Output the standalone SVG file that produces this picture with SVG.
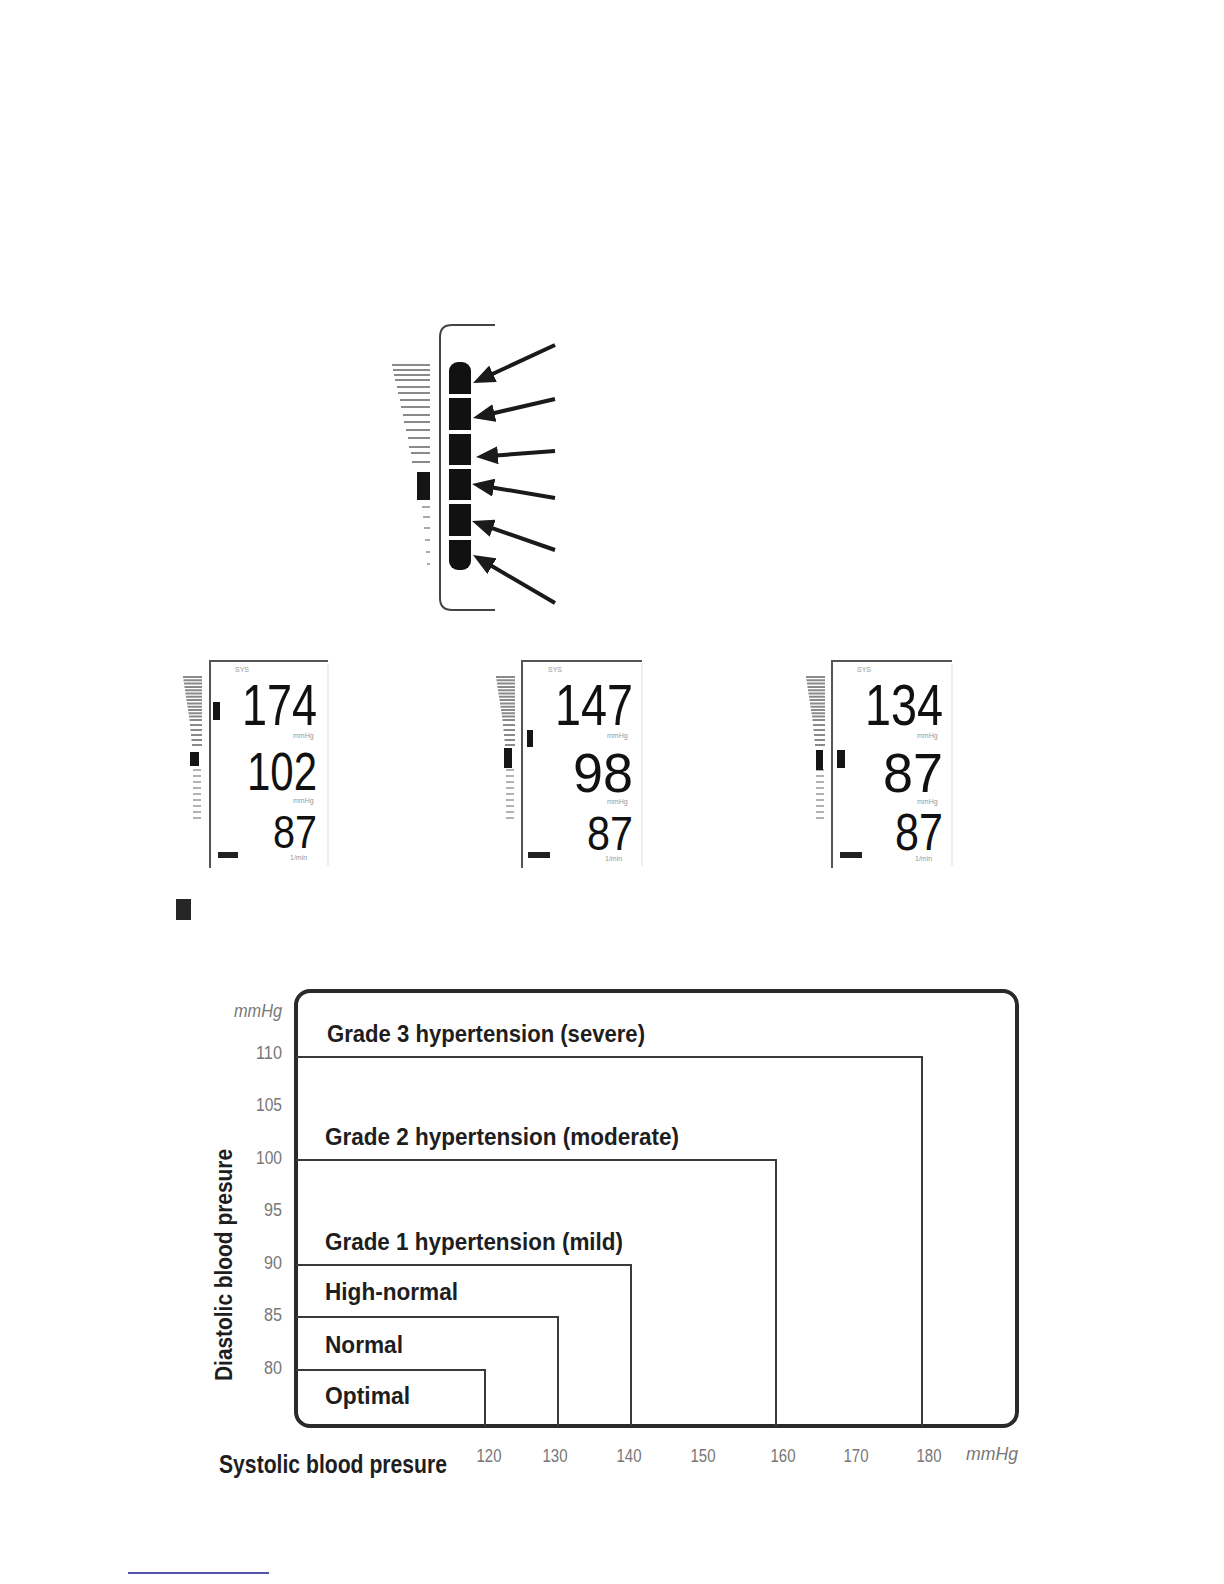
<svg xmlns="http://www.w3.org/2000/svg" width="1224" height="1584" viewBox="0 0 1224 1584">
<style>
.lab{font-family:"Liberation Sans Narrow","Liberation Sans",Arial,sans-serif;font-weight:bold;fill:#1e1e1e}
.tick{font-family:"Liberation Sans Narrow","Liberation Sans",Arial,sans-serif;fill:#777;font-size:18px}
.dig{font-family:"Liberation Sans",Arial,sans-serif;fill:#111}
.tiny{font-family:"Liberation Sans",Arial,sans-serif;fill:#999;font-size:7px}
.frame{fill:none;stroke:#2a2a2a;stroke-width:4}
.zone{fill:none;stroke:#3a3a3a;stroke-width:2}
.wedge{stroke:#8a8a8a;stroke-width:2}
.conn{stroke:#1a1a1a;stroke-width:4;fill:none}
</style>
<defs>
<marker id="ah" viewBox="0 0 22 18" refX="12" refY="9" markerWidth="22" markerHeight="18" markerUnits="userSpaceOnUse" orient="auto">
<path d="M0,0 L22,9 L0,18 z" fill="#1a1a1a"/>
</marker>
<g id="minibar">
<path class="wedge" stroke-width="1.4" d="M0,0 H19 M0.5,3.3 H19 M1,6.6 H19 M1.5,9.9 H19 M2,13.2 H19 M2.5,16.5 H19 M3,19.8 H19 M3.5,23.1 H19 M4,26.4 H19 M4.5,29.7 H19 M5,33 H19 M5.5,36.3 H19 M6,39.6 H19 M6.5,42.9 H19 M7,48 H19 M7.5,53 H19 M8,58 H19 M8.5,63 H19 M9,68 H19"/>
<path stroke="#999" stroke-width="1.4" d="M10,93 H18 M10,99 H18 M10,105 H18 M10,111 H18 M10,117 H18 M10,123 H18 M10,129 H18 M10,135 H18 M10,141 H18"/>
</g>
</defs>
<rect width="1224" height="1584" fill="#fff"/>

<g id="indicator-panel">
<path d="M495,325 H452 Q440,325 440,337 V598 Q440,610 452,610 H495" fill="none" stroke="#444" stroke-width="2"/>
<path class="wedge" d="M392,365 H430 M393,370 H430 M394,375 H430 M395,380 H430 M397,387 H430 M398,393 H430 M400,400 H430 M401,407 H430 M403,415 H430 M404,422 H430 M406,430 H430 M408,438 H430 M409,447 H430 M411,453 H430 M412,462 H430"/>
<rect x="417" y="472" width="13" height="28" fill="#151515"/>
<path stroke="#aaa" stroke-width="2" d="M422,507 H430 M423,517 H430 M424,528 H430 M425,540 H430 M426,552 H430 M427,564 H430"/>
<rect x="449" y="362" width="22" height="208" rx="9" fill="#111"/>
<g fill="#fff">
<rect x="447" y="394" width="26" height="4"/>
<rect x="447" y="430" width="26" height="4"/>
<rect x="447" y="465" width="26" height="4"/>
<rect x="447" y="500" width="26" height="4"/>
<rect x="447" y="536" width="26" height="4"/>
</g>
</g>

<g id="connectors">
<line class="conn" x1="555" y1="345" x2="482.1" y2="378.8" marker-end="url(#ah)"/>
<line class="conn" x1="555" y1="399" x2="482.7" y2="415.7" marker-end="url(#ah)"/>
<line class="conn" x1="555" y1="451" x2="486" y2="456.2" marker-end="url(#ah)"/>
<line class="conn" x1="555" y1="498" x2="481.9" y2="485.7" marker-end="url(#ah)"/>
<line class="conn" x1="555" y1="550" x2="481.4" y2="524.3" marker-end="url(#ah)"/>
<line class="conn" x1="555" y1="603" x2="481.6" y2="560.1" marker-end="url(#ah)"/>
</g>

<g id="lcd-1">
<path d="M210,868 V661 H328" fill="none" stroke="#555" stroke-width="2"/>
<line x1="328" y1="663" x2="328" y2="866" stroke="#ddd" stroke-width="1"/>
<use href="#minibar" x="183" y="677"/>
<rect x="190" y="752" width="9" height="14" fill="#151515"/>
<text class="tiny" x="235" y="672">SYS</text>
<rect x="213" y="702" width="7" height="18" fill="#151515"/>
<text class="dig" x="242" y="725" font-size="58" textLength="75" lengthAdjust="spacingAndGlyphs">174</text>
<text class="tiny" x="293" y="738">mmHg</text>
<text class="dig" x="247" y="790" font-size="53" textLength="70" lengthAdjust="spacingAndGlyphs">102</text>
<text class="tiny" x="293" y="803">mmHg</text>
<text class="dig" x="273" y="848" font-size="46" textLength="44" lengthAdjust="spacingAndGlyphs">87</text>
<text class="tiny" x="290" y="860">1/min</text>
<rect x="218" y="852" width="20" height="6" fill="#222"/>
</g>

<g id="lcd-2">
<path d="M522,868 V661 H642" fill="none" stroke="#555" stroke-width="2"/>
<line x1="642" y1="663" x2="642" y2="866" stroke="#ddd" stroke-width="1"/>
<use href="#minibar" x="496" y="677"/>
<rect x="504" y="748" width="8" height="20" fill="#151515"/>
<text class="tiny" x="548" y="672">SYS</text>
<rect x="527" y="730" width="6" height="17" fill="#151515"/>
<text class="dig" x="555" y="725" font-size="58" textLength="78" lengthAdjust="spacingAndGlyphs">147</text>
<text class="tiny" x="607" y="738">mmHg</text>
<text class="dig" x="573" y="792" font-size="55" textLength="60" lengthAdjust="spacingAndGlyphs">98</text>
<text class="tiny" x="607" y="804">mmHg</text>
<text class="dig" x="587" y="850" font-size="49" textLength="46" lengthAdjust="spacingAndGlyphs">87</text>
<text class="tiny" x="605" y="861">1/min</text>
<rect x="528" y="852" width="22" height="6" fill="#222"/>
</g>

<g id="lcd-3">
<path d="M832,868 V661 H952" fill="none" stroke="#555" stroke-width="2"/>
<line x1="952" y1="663" x2="952" y2="866" stroke="#ddd" stroke-width="1"/>
<use href="#minibar" x="806" y="677"/>
<rect x="816" y="750" width="7" height="20" fill="#151515"/>
<text class="tiny" x="857" y="672">SYS</text>
<rect x="837" y="750" width="8" height="18" fill="#151515"/>
<text class="dig" x="865" y="725" font-size="58" textLength="78" lengthAdjust="spacingAndGlyphs">134</text>
<text class="tiny" x="917" y="738">mmHg</text>
<text class="dig" x="883" y="792" font-size="55" textLength="60" lengthAdjust="spacingAndGlyphs">87</text>
<text class="tiny" x="917" y="804">mmHg</text>
<text class="dig" x="895" y="850" font-size="51" textLength="48" lengthAdjust="spacingAndGlyphs">87</text>
<text class="tiny" x="915" y="861">1/min</text>
<rect x="840" y="852" width="22" height="6" fill="#222"/>
</g>

<g id="bullet">
<rect x="176" y="899" width="15" height="21" fill="#262626"/>
</g>

<g id="chart">
<rect class="frame" x="296" y="991" width="721" height="435" rx="14"/>
<path class="zone" d="M296,1057 H922 V1426"/>
<path class="zone" d="M296,1160 H776 V1426"/>
<path class="zone" d="M296,1265 H631 V1426"/>
<path class="zone" d="M296,1317 H558 V1426"/>
<path class="zone" d="M296,1370 H485 V1426"/>

<text class="lab" x="327" y="1042" font-size="24" textLength="318" lengthAdjust="spacingAndGlyphs">Grade 3 hypertension (severe)</text>
<text class="lab" x="325" y="1145" font-size="24" textLength="354" lengthAdjust="spacingAndGlyphs">Grade 2 hypertension (moderate)</text>
<text class="lab" x="325" y="1250" font-size="24" textLength="298" lengthAdjust="spacingAndGlyphs">Grade 1 hypertension (mild)</text>
<text class="lab" x="325" y="1300" font-size="24" textLength="133" lengthAdjust="spacingAndGlyphs">High-normal</text>
<text class="lab" x="325" y="1353" font-size="24" textLength="78" lengthAdjust="spacingAndGlyphs">Normal</text>
<text class="lab" x="325" y="1404" font-size="24" textLength="85" lengthAdjust="spacingAndGlyphs">Optimal</text>

<text class="tick" x="282" y="1017" text-anchor="end" font-style="italic" font-size="15" textLength="48" lengthAdjust="spacingAndGlyphs">mmHg</text>
<text class="tick" x="282" y="1059" text-anchor="end" textLength="26" lengthAdjust="spacingAndGlyphs">110</text>
<text class="tick" x="282" y="1111" text-anchor="end" textLength="26" lengthAdjust="spacingAndGlyphs">105</text>
<text class="tick" x="282" y="1164" text-anchor="end" textLength="26" lengthAdjust="spacingAndGlyphs">100</text>
<text class="tick" x="282" y="1216" text-anchor="end" textLength="18" lengthAdjust="spacingAndGlyphs">95</text>
<text class="tick" x="282" y="1269" text-anchor="end" textLength="18" lengthAdjust="spacingAndGlyphs">90</text>
<text class="tick" x="282" y="1321" text-anchor="end" textLength="18" lengthAdjust="spacingAndGlyphs">85</text>
<text class="tick" x="282" y="1374" text-anchor="end" textLength="18" lengthAdjust="spacingAndGlyphs">80</text>

<text class="tick" x="489" y="1462" text-anchor="middle" textLength="25" lengthAdjust="spacingAndGlyphs">120</text>
<text class="tick" x="555" y="1462" text-anchor="middle" textLength="25" lengthAdjust="spacingAndGlyphs">130</text>
<text class="tick" x="629" y="1462" text-anchor="middle" textLength="25" lengthAdjust="spacingAndGlyphs">140</text>
<text class="tick" x="703" y="1462" text-anchor="middle" textLength="25" lengthAdjust="spacingAndGlyphs">150</text>
<text class="tick" x="783" y="1462" text-anchor="middle" textLength="25" lengthAdjust="spacingAndGlyphs">160</text>
<text class="tick" x="856" y="1462" text-anchor="middle" textLength="25" lengthAdjust="spacingAndGlyphs">170</text>
<text class="tick" x="929" y="1462" text-anchor="middle" textLength="25" lengthAdjust="spacingAndGlyphs">180</text>
<text class="tick" x="966" y="1460" font-style="italic" font-size="15" textLength="52" lengthAdjust="spacingAndGlyphs">mmHg</text>

<text class="lab" x="219" y="1473" font-size="25" textLength="228" lengthAdjust="spacingAndGlyphs">Systolic blood presure</text>
<text class="lab" transform="translate(232,1265) rotate(-90)" x="0" y="0" text-anchor="middle" font-size="24" textLength="232" lengthAdjust="spacingAndGlyphs">Diastolic blood presure</text>
</g>

<g id="footer-rule">
<line x1="128" y1="1573" x2="269" y2="1573" stroke="#1a1a8c" stroke-width="1.5"/>
</g>
</svg>
